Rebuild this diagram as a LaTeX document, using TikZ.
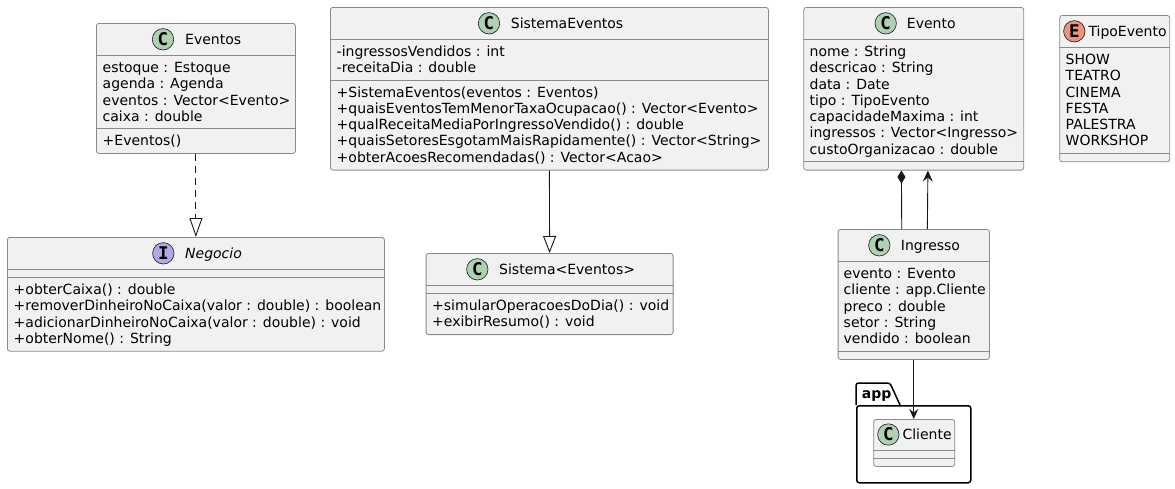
\documentclass[tikz,border=0pt]{standalone}
\usepackage{fontspec}
\setmainfont{DejaVu Sans}
\newfontfamily\circfont{DejaVu Sans Mono}
\usetikzlibrary{arrows.meta}
\definecolor{boxfill}{HTML}{F1F1F1}
\definecolor{boxline}{HTML}{181818}
\definecolor{boxgray}{HTML}{8A8A8A}
\definecolor{cgreen}{HTML}{ADD1B2}
\definecolor{cpurple}{HTML}{B4A7E5}
\definecolor{corange}{HTML}{EB937F}
\tikzset{
  cls/.style={draw=boxgray, fill=boxfill, line width=0.8pt, rounded corners=2.5pt, inner sep=0pt, anchor=north west},
  divline/.style={draw=boxgray, line width=0.8pt},
  txt/.style={font=\fontsize{14}{16.3}\selectfont, inner sep=0pt, text=black},
  circ/.style={circle, draw=boxline, line width=0.6pt, minimum size=21.4pt, inner sep=0pt, font=\circfont\bfseries\fontsize{17.5}{18}\selectfont},
  conn/.style={draw=boxline, line width=0.9pt},
  pkg/.style={draw=black, line width=1.5pt},
}
\newcommand\umlrows[4]{%
  \foreach \t [count=\i] in {#4} {\node[txt,anchor=base west] (#1\i) at (#2,{#3+(\i-1)*16.3}) {\t};}}
\newcommand\umldiv[2]{\draw[divline] (#1.west |- 0,#2) -- (#1.east |- 0,#2);}
\begin{document}
\begin{tikzpicture}[x=1pt,y=-1pt]
\useasboundingbox (0,0) rectangle (1175,488);

% ---------- Eventos ----------
\node[cls, minimum width=199pt, minimum height=130pt] (eventos) at (96,23) {};
\node[circ, fill=cgreen] (eventosC) at (163,39.3) {C};
\node[txt, anchor=base west] (eventosT) at (185,44.4) {Eventos};
\umldiv{eventos}{55.6}
\umlrows{eventosA}{102.5}{72.4}{estoque : Estoque, agenda : Agenda, eventos : Vector<Evento>, caixa : double}
\umldiv{eventos}{128.8}
\umlrows{eventosM}{102.5}{145.6}{+Eventos()}

% ---------- Negocio ----------
\node[cls, minimum width=377pt, minimum height=113.8pt] (negocio) at (7,237) {};
\node[circ, fill=cpurple] (negocioC) at (163.3,253.3) {I};
\node[txt, anchor=base west, font=\fontsize{14}{16.3}\selectfont\itshape] (negocioT) at (185,258.4) {Negocio};
\umldiv{negocio}{269.6}
\umldiv{negocio}{277.6}
\umlrows{negocioM}{13.5}{294.4}{+obterCaixa() : double, +removerDinheiroNoCaixa(valor : double) : boolean, +adicionarDinheiroNoCaixa(valor : double) : void, +obterNome() : String}

% ---------- SistemaEventos ----------
\node[cls, minimum width=438pt, minimum height=162.7pt] (sisev) at (330,7) {};
\node[circ, fill=cgreen] (sisevC) at (489,23.3) {C};
\node[txt, anchor=base west] (sisevT) at (510.7,28.4) {SistemaEventos};
\umldiv{sisev}{39.6}
\umlrows{sisevA}{336.5}{56.4}{-ingressosVendidos : int, -receitaDia : double}
\umldiv{sisev}{80.2}
\umlrows{sisevM}{336.5}{97.0}{+SistemaEventos(eventos : Eventos), +quaisEventosTemMenorTaxaOcupacao() : Vector<Evento>, +qualReceitaMediaPorIngressoVendido() : double, +quaisSetoresEsgotamMaisRapidamente() : Vector<String>, +obterAcoesRecomendadas() : Vector<Acao>}

% ---------- Sistema<Eventos> ----------
\node[cls, minimum width=247pt, minimum height=81.2pt] (sistema) at (425.7,253) {};
\node[circ, fill=cgreen] (sistemaC) at (477.3,269.3) {C};
\node[txt, anchor=base west] (sistemaT) at (499,274.4) {Sistema<Eventos>};
\umldiv{sistema}{285.6}
\umldiv{sistema}{293.6}
\umlrows{sistemaM}{432}{310.4}{+simularOperacoesDoDia() : void, +exibirResumo() : void}

% ---------- Evento ----------
\node[cls, minimum width=220pt, minimum height=162.7pt] (evento) at (803.3,7) {};
\node[circ, fill=cgreen] (eventoC) at (885.7,23.3) {C};
\node[txt, anchor=base west] (eventoT) at (906.7,28.4) {Evento};
\umldiv{evento}{39.6}
\umlrows{eventoA}{809.5}{56.4}{nome : String, descricao : String, data : Date, tipo : TipoEvento, capacidadeMaxima : int, ingressos : Vector<Ingresso>, custoOrganizacao : double}
\umldiv{evento}{161.7}

% ---------- TipoEvento ----------
\node[cls, minimum width=110pt, minimum height=146.4pt] (tipo) at (1059.3,15) {};
\node[circ, fill=corange] (tipoC) at (1074.3,31.3) {E};
\node[txt, anchor=base west] (tipoT) at (1088.3,36.4) {TipoEvento};
\umldiv{tipo}{47.6}
\umlrows{tipoA}{1065.5}{64.4}{SHOW, TEATRO, CINEMA, FESTA, PALESTRA, WORKSHOP}
\umldiv{tipo}{153.4}

% ---------- Ingresso ----------
\node[cls, minimum width=151.3pt, minimum height=130.1pt] (ingresso) at (837.7,229) {};
\node[circ, fill=cgreen] (ingressoC) at (879.3,245.3) {C};
\node[txt, anchor=base west] (ingressoT) at (900.7,250.4) {Ingresso};
\umldiv{ingresso}{261.6}
\umlrows{ingressoA}{843.5}{278.4}{evento : Evento, cliente : app.Cliente, preco : double, setor : String, vendido : boolean}
\umldiv{ingresso}{351.1}

% ---------- package app ----------
\draw[pkg, rounded corners=2.5pt] (856,405) -- (856,383) -- (890,383) -- (900,405);
\node[pkg, draw, rectangle, rounded corners=2.5pt, minimum width=114pt, minimum height=77pt, anchor=north west, inner sep=0pt] (app) at (856,405) {};
\node[txt, anchor=base west, font=\fontsize{14}{16.3}\selectfont\bfseries] (appT) at (861.7,398.8) {app};

% ---------- Cliente ----------
\node[cls, minimum width=81pt, minimum height=47pt] (cliente) at (873.3,419) {};
\node[circ, fill=cgreen] (clienteC) at (888.3,434.5) {C};
\node[txt, anchor=base west] (clienteT) at (902.3,439.6) {Cliente};
\umldiv{cliente}{450.5}
\umldiv{cliente}{458.5}

% ---------- connectors ----------
\draw[conn, dash pattern=on 7pt off 5pt, -{Triangle[open, length=19pt, width=13pt, line width=0.9pt]}] (eventos.south) -- (negocio.north);
\draw[conn, -{Triangle[open, length=17pt, width=13pt, line width=0.9pt]}] (sisev.south) -- (sistema.north);
\draw[conn, {Diamond[length=13pt, width=8pt]}-] ([xshift=-12.3pt]evento.south) -- ([xshift=-12pt]ingresso.north);
\draw[conn, -{Stealth[length=11pt, width=10pt, inset=4pt]}] ([xshift=13.6pt]ingresso.north) -- ([xshift=14.2pt]evento.south);
\draw[conn, -{Stealth[length=10pt, width=9pt, inset=3.5pt]}] (ingresso.south) -- (ingresso.south |- cliente.north);
\end{tikzpicture}
\end{document}
